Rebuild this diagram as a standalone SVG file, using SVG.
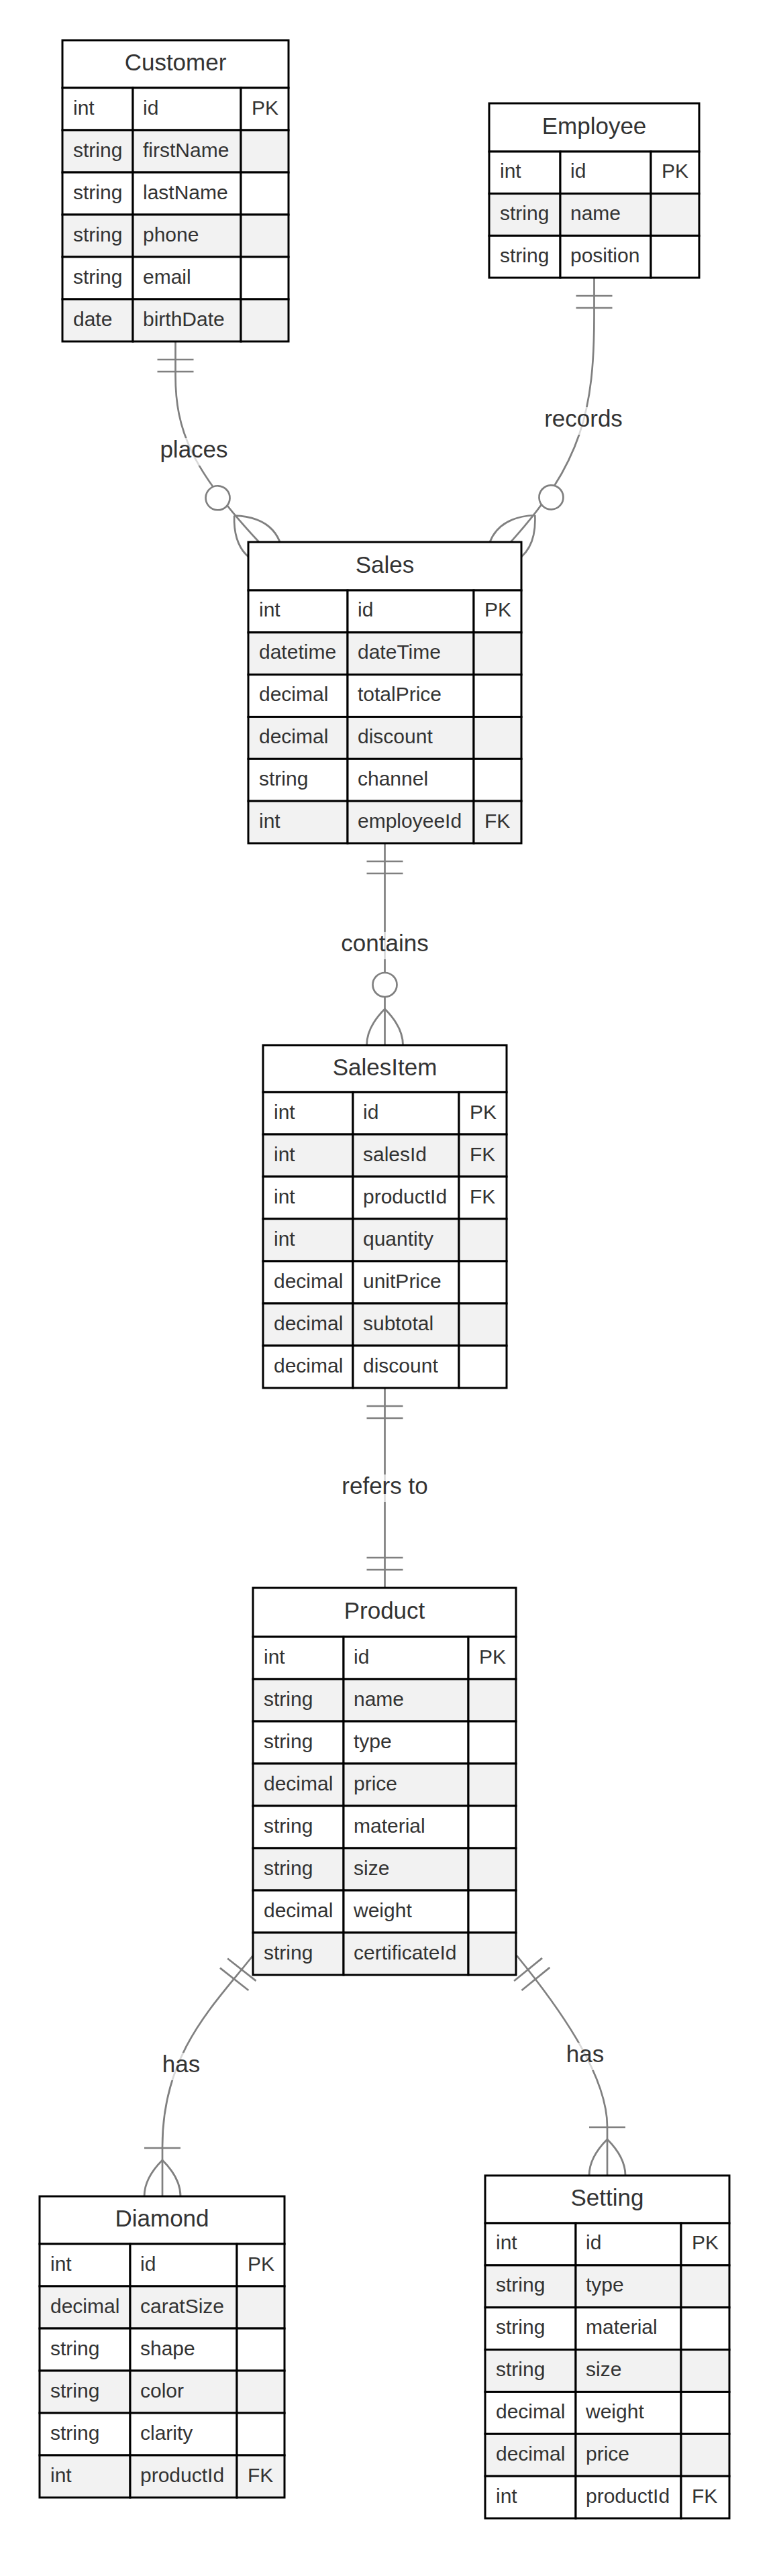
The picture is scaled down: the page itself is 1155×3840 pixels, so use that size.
<svg xmlns="http://www.w3.org/2000/svg" width="1155" height="3840" viewBox="0 0 1155 3840">
<style>
.bg{fill:#ffffff}
.hdr,.odd{fill:#ffffff;stroke:#000;stroke-width:3}
.even{fill:#f2f2f2;stroke:#000;stroke-width:3}
.t{font-family:"Liberation Sans",Arial,sans-serif;font-size:30px;fill:#333}
.title{font-family:"Liberation Sans",Arial,sans-serif;font-size:35px;fill:#333;text-anchor:middle}
.rel{fill:none;stroke:#808080;stroke-width:2.7}
.lblbox{fill:#ffffff;opacity:0.7}
.lbl{font-family:"Liberation Sans",Arial,sans-serif;font-size:35px;fill:#333;text-anchor:middle}
.mk{fill:none;stroke:#808080;stroke-width:0.9}
</style>
<defs>
<marker id="oneStart" markerUnits="userSpaceOnUse" viewBox="0 0 18 18" refX="0" refY="9" markerWidth="54" markerHeight="54" orient="auto" overflow="visible"><path class="mk" d="M9,0 L9,18 M15,0 L15,18"/></marker>
<marker id="oneEnd" markerUnits="userSpaceOnUse" viewBox="0 0 18 18" refX="18" refY="9" markerWidth="54" markerHeight="54" orient="auto" overflow="visible"><path class="mk" d="M3,0 L3,18 M9,0 L9,18"/></marker>
<marker id="zeroManyEnd" markerUnits="userSpaceOnUse" viewBox="0 0 57 36" refX="39" refY="18" markerWidth="171" markerHeight="108" orient="auto" overflow="visible"><circle cx="9" cy="18" r="6" fill="#fff" stroke="#808080" stroke-width="0.9"/><path class="mk" d="M21,18 Q39,0 57,18 Q39,36 21,18"/></marker>
<marker id="oneManyEnd" markerUnits="userSpaceOnUse" viewBox="0 0 45 36" refX="27" refY="18" markerWidth="135" markerHeight="108" orient="auto" overflow="visible"><path class="mk" d="M3,9 L3,27 M9,18 Q27,0 45,18 Q27,36 9,18"/></marker>
</defs>
<rect class="bg" x="0" y="0" width="1155" height="3840"/>
<g id="connectors">
<path class="rel" d="M261.5,509 L261.5,560 C261.5,640 285,700 386,808" marker-start="url(#oneStart)" marker-end="url(#zeroManyEnd)"/>
<path class="rel" d="M885.5,414 L885.5,470 C885.5,610 868,690 761,808" marker-start="url(#oneStart)" marker-end="url(#zeroManyEnd)"/>
<path class="rel" d="M573.5,1257 L573.5,1558" marker-start="url(#oneStart)" marker-end="url(#zeroManyEnd)"/>
<path class="rel" d="M573.5,2069 L573.5,2367" marker-start="url(#oneStart)" marker-end="url(#oneEnd)"/>
<path class="rel" d="M377,2915 C318,2990 242,3060 242,3200 L242,3274" marker-start="url(#oneStart)" marker-end="url(#oneManyEnd)"/>
<path class="rel" d="M770,2915 C826.7,2984.75 905,3090 905,3170 L905,3243" marker-start="url(#oneStart)" marker-end="url(#oneManyEnd)"/>
<rect class="lblbox" x="238.5" y="653" width="101" height="41"/><text class="lbl" x="289" y="682">places</text>
<rect class="lblbox" x="811" y="607" width="117" height="41"/><text class="lbl" x="869.5" y="636">records</text>
<rect class="lblbox" x="508.5" y="1389" width="130" height="41"/><text class="lbl" x="573.5" y="1418">contains</text>
<rect class="lblbox" x="509.3" y="2198" width="128.4" height="41"/><text class="lbl" x="573.5" y="2227">refers to</text>
<rect class="lblbox" x="241.8" y="3060" width="56.4" height="41"/><text class="lbl" x="270" y="3089">has</text>
<rect class="lblbox" x="843.8" y="3045" width="56.4" height="41"/><text class="lbl" x="872" y="3074">has</text>
</g>
<g id="customer">
<rect class="hdr" x="93" y="60" width="337" height="71"/>
<text class="title" x="261.5" y="105">Customer</text>
<rect class="odd" x="93" y="131" width="105" height="63"/><rect class="odd" x="198" y="131" width="161" height="63"/><rect class="odd" x="359" y="131" width="71" height="63"/>
<rect class="even" x="93" y="194" width="105" height="63"/><rect class="even" x="198" y="194" width="161" height="63"/><rect class="even" x="359" y="194" width="71" height="63"/>
<rect class="odd" x="93" y="257" width="105" height="63"/><rect class="odd" x="198" y="257" width="161" height="63"/><rect class="odd" x="359" y="257" width="71" height="63"/>
<rect class="even" x="93" y="320" width="105" height="63"/><rect class="even" x="198" y="320" width="161" height="63"/><rect class="even" x="359" y="320" width="71" height="63"/>
<rect class="odd" x="93" y="383" width="105" height="63"/><rect class="odd" x="198" y="383" width="161" height="63"/><rect class="odd" x="359" y="383" width="71" height="63"/>
<rect class="even" x="93" y="446" width="105" height="63"/><rect class="even" x="198" y="446" width="161" height="63"/><rect class="even" x="359" y="446" width="71" height="63"/>
<text class="t" x="109" y="170.5">int</text><text class="t" x="213" y="170.5">id</text><text class="t" x="375" y="170.5">PK</text>
<text class="t" x="109" y="233.5">string</text><text class="t" x="213" y="233.5">firstName</text>
<text class="t" x="109" y="296.5">string</text><text class="t" x="213" y="296.5">lastName</text>
<text class="t" x="109" y="359.5">string</text><text class="t" x="213" y="359.5">phone</text>
<text class="t" x="109" y="422.5">string</text><text class="t" x="213" y="422.5">email</text>
<text class="t" x="109" y="485.5">date</text><text class="t" x="213" y="485.5">birthDate</text>
</g>
<g id="employee">
<rect class="hdr" x="729" y="154" width="313" height="72"/>
<text class="title" x="885.5" y="199.5">Employee</text>
<rect class="odd" x="729" y="226" width="106" height="62.67"/><rect class="odd" x="835" y="226" width="135" height="62.67"/><rect class="odd" x="970" y="226" width="72" height="62.67"/>
<rect class="even" x="729" y="288.67" width="106" height="62.67"/><rect class="even" x="835" y="288.67" width="135" height="62.67"/><rect class="even" x="970" y="288.67" width="72" height="62.67"/>
<rect class="odd" x="729" y="351.33" width="106" height="62.67"/><rect class="odd" x="835" y="351.33" width="135" height="62.67"/><rect class="odd" x="970" y="351.33" width="72" height="62.67"/>
<text class="t" x="745" y="265.3">int</text><text class="t" x="850" y="265.3">id</text><text class="t" x="986" y="265.3">PK</text>
<text class="t" x="745" y="328">string</text><text class="t" x="850" y="328">name</text>
<text class="t" x="745" y="390.6">string</text><text class="t" x="850" y="390.6">position</text>
</g>
<g id="sales">
<rect class="hdr" x="370" y="808" width="407" height="72"/>
<text class="title" x="573.5" y="853.5">Sales</text>
<rect class="odd" x="370" y="880" width="148" height="62.83"/><rect class="odd" x="518" y="880" width="188" height="62.83"/><rect class="odd" x="706" y="880" width="71" height="62.83"/>
<rect class="even" x="370" y="942.83" width="148" height="62.83"/><rect class="even" x="518" y="942.83" width="188" height="62.83"/><rect class="even" x="706" y="942.83" width="71" height="62.83"/>
<rect class="odd" x="370" y="1005.67" width="148" height="62.83"/><rect class="odd" x="518" y="1005.67" width="188" height="62.83"/><rect class="odd" x="706" y="1005.67" width="71" height="62.83"/>
<rect class="even" x="370" y="1068.5" width="148" height="62.83"/><rect class="even" x="518" y="1068.5" width="188" height="62.83"/><rect class="even" x="706" y="1068.5" width="71" height="62.83"/>
<rect class="odd" x="370" y="1131.33" width="148" height="62.83"/><rect class="odd" x="518" y="1131.33" width="188" height="62.83"/><rect class="odd" x="706" y="1131.33" width="71" height="62.83"/>
<rect class="even" x="370" y="1194.17" width="148" height="62.83"/><rect class="even" x="518" y="1194.17" width="188" height="62.83"/><rect class="even" x="706" y="1194.17" width="71" height="62.83"/>
<text class="t" x="386" y="919.4">int</text><text class="t" x="533" y="919.4">id</text><text class="t" x="722" y="919.4">PK</text>
<text class="t" x="386" y="982.3">datetime</text><text class="t" x="533" y="982.3">dateTime</text>
<text class="t" x="386" y="1045.1">decimal</text><text class="t" x="533" y="1045.1">totalPrice</text>
<text class="t" x="386" y="1107.9">decimal</text><text class="t" x="533" y="1107.9">discount</text>
<text class="t" x="386" y="1170.7">string</text><text class="t" x="533" y="1170.7">channel</text>
<text class="t" x="386" y="1233.6">int</text><text class="t" x="533" y="1233.6">employeeId</text><text class="t" x="722" y="1233.6">FK</text>
</g>
<g id="salesitem">
<rect class="hdr" x="392" y="1558" width="363" height="70"/>
<text class="title" x="573.5" y="1602.5">SalesItem</text>
<rect class="odd" x="392" y="1628" width="134" height="63"/><rect class="odd" x="526" y="1628" width="158" height="63"/><rect class="odd" x="684" y="1628" width="71" height="63"/>
<rect class="even" x="392" y="1691" width="134" height="63"/><rect class="even" x="526" y="1691" width="158" height="63"/><rect class="even" x="684" y="1691" width="71" height="63"/>
<rect class="odd" x="392" y="1754" width="134" height="63"/><rect class="odd" x="526" y="1754" width="158" height="63"/><rect class="odd" x="684" y="1754" width="71" height="63"/>
<rect class="even" x="392" y="1817" width="134" height="63"/><rect class="even" x="526" y="1817" width="158" height="63"/><rect class="even" x="684" y="1817" width="71" height="63"/>
<rect class="odd" x="392" y="1880" width="134" height="63"/><rect class="odd" x="526" y="1880" width="158" height="63"/><rect class="odd" x="684" y="1880" width="71" height="63"/>
<rect class="even" x="392" y="1943" width="134" height="63"/><rect class="even" x="526" y="1943" width="158" height="63"/><rect class="even" x="684" y="1943" width="71" height="63"/>
<rect class="odd" x="392" y="2006" width="134" height="63"/><rect class="odd" x="526" y="2006" width="158" height="63"/><rect class="odd" x="684" y="2006" width="71" height="63"/>
<text class="t" x="408" y="1667.5">int</text><text class="t" x="541" y="1667.5">id</text><text class="t" x="700" y="1667.5">PK</text>
<text class="t" x="408" y="1730.5">int</text><text class="t" x="541" y="1730.5">salesId</text><text class="t" x="700" y="1730.5">FK</text>
<text class="t" x="408" y="1793.5">int</text><text class="t" x="541" y="1793.5">productId</text><text class="t" x="700" y="1793.5">FK</text>
<text class="t" x="408" y="1856.5">int</text><text class="t" x="541" y="1856.5">quantity</text>
<text class="t" x="408" y="1919.5">decimal</text><text class="t" x="541" y="1919.5">unitPrice</text>
<text class="t" x="408" y="1982.5">decimal</text><text class="t" x="541" y="1982.5">subtotal</text>
<text class="t" x="408" y="2045.5">decimal</text><text class="t" x="541" y="2045.5">discount</text>
</g>
<g id="product">
<rect class="hdr" x="377" y="2367" width="392" height="73"/>
<text class="title" x="573" y="2413">Product</text>
<rect class="odd" x="377" y="2440" width="135" height="63"/><rect class="odd" x="512" y="2440" width="186" height="63"/><rect class="odd" x="698" y="2440" width="71" height="63"/>
<rect class="even" x="377" y="2503" width="135" height="63"/><rect class="even" x="512" y="2503" width="186" height="63"/><rect class="even" x="698" y="2503" width="71" height="63"/>
<rect class="odd" x="377" y="2566" width="135" height="63"/><rect class="odd" x="512" y="2566" width="186" height="63"/><rect class="odd" x="698" y="2566" width="71" height="63"/>
<rect class="even" x="377" y="2629" width="135" height="63"/><rect class="even" x="512" y="2629" width="186" height="63"/><rect class="even" x="698" y="2629" width="71" height="63"/>
<rect class="odd" x="377" y="2692" width="135" height="63"/><rect class="odd" x="512" y="2692" width="186" height="63"/><rect class="odd" x="698" y="2692" width="71" height="63"/>
<rect class="even" x="377" y="2755" width="135" height="63"/><rect class="even" x="512" y="2755" width="186" height="63"/><rect class="even" x="698" y="2755" width="71" height="63"/>
<rect class="odd" x="377" y="2818" width="135" height="63"/><rect class="odd" x="512" y="2818" width="186" height="63"/><rect class="odd" x="698" y="2818" width="71" height="63"/>
<rect class="even" x="377" y="2881" width="135" height="63"/><rect class="even" x="512" y="2881" width="186" height="63"/><rect class="even" x="698" y="2881" width="71" height="63"/>
<text class="t" x="393" y="2479.5">int</text><text class="t" x="527" y="2479.5">id</text><text class="t" x="714" y="2479.5">PK</text>
<text class="t" x="393" y="2542.5">string</text><text class="t" x="527" y="2542.5">name</text>
<text class="t" x="393" y="2605.5">string</text><text class="t" x="527" y="2605.5">type</text>
<text class="t" x="393" y="2668.5">decimal</text><text class="t" x="527" y="2668.5">price</text>
<text class="t" x="393" y="2731.5">string</text><text class="t" x="527" y="2731.5">material</text>
<text class="t" x="393" y="2794.5">string</text><text class="t" x="527" y="2794.5">size</text>
<text class="t" x="393" y="2857.5">decimal</text><text class="t" x="527" y="2857.5">weight</text>
<text class="t" x="393" y="2920.5">string</text><text class="t" x="527" y="2920.5">certificateId</text>
</g>
<g id="diamond">
<rect class="hdr" x="59" y="3274" width="365" height="71"/>
<text class="title" x="241.5" y="3319">Diamond</text>
<rect class="odd" x="59" y="3345" width="135" height="63"/><rect class="odd" x="194" y="3345" width="159" height="63"/><rect class="odd" x="353" y="3345" width="71" height="63"/>
<rect class="even" x="59" y="3408" width="135" height="63"/><rect class="even" x="194" y="3408" width="159" height="63"/><rect class="even" x="353" y="3408" width="71" height="63"/>
<rect class="odd" x="59" y="3471" width="135" height="63"/><rect class="odd" x="194" y="3471" width="159" height="63"/><rect class="odd" x="353" y="3471" width="71" height="63"/>
<rect class="even" x="59" y="3534" width="135" height="63"/><rect class="even" x="194" y="3534" width="159" height="63"/><rect class="even" x="353" y="3534" width="71" height="63"/>
<rect class="odd" x="59" y="3597" width="135" height="63"/><rect class="odd" x="194" y="3597" width="159" height="63"/><rect class="odd" x="353" y="3597" width="71" height="63"/>
<rect class="even" x="59" y="3660" width="135" height="63"/><rect class="even" x="194" y="3660" width="159" height="63"/><rect class="even" x="353" y="3660" width="71" height="63"/>
<text class="t" x="75" y="3384.5">int</text><text class="t" x="209" y="3384.5">id</text><text class="t" x="369" y="3384.5">PK</text>
<text class="t" x="75" y="3447.5">decimal</text><text class="t" x="209" y="3447.5">caratSize</text>
<text class="t" x="75" y="3510.5">string</text><text class="t" x="209" y="3510.5">shape</text>
<text class="t" x="75" y="3573.5">string</text><text class="t" x="209" y="3573.5">color</text>
<text class="t" x="75" y="3636.5">string</text><text class="t" x="209" y="3636.5">clarity</text>
<text class="t" x="75" y="3699.5">int</text><text class="t" x="209" y="3699.5">productId</text><text class="t" x="369" y="3699.5">FK</text>
</g>
<g id="setting">
<rect class="hdr" x="723" y="3243" width="364" height="71"/>
<text class="title" x="905" y="3288">Setting</text>
<rect class="odd" x="723" y="3314" width="135" height="62.86"/><rect class="odd" x="858" y="3314" width="157" height="62.86"/><rect class="odd" x="1015" y="3314" width="72" height="62.86"/>
<rect class="even" x="723" y="3376.86" width="135" height="62.86"/><rect class="even" x="858" y="3376.86" width="157" height="62.86"/><rect class="even" x="1015" y="3376.86" width="72" height="62.86"/>
<rect class="odd" x="723" y="3439.71" width="135" height="62.86"/><rect class="odd" x="858" y="3439.71" width="157" height="62.86"/><rect class="odd" x="1015" y="3439.71" width="72" height="62.86"/>
<rect class="even" x="723" y="3502.57" width="135" height="62.86"/><rect class="even" x="858" y="3502.57" width="157" height="62.86"/><rect class="even" x="1015" y="3502.57" width="72" height="62.86"/>
<rect class="odd" x="723" y="3565.43" width="135" height="62.86"/><rect class="odd" x="858" y="3565.43" width="157" height="62.86"/><rect class="odd" x="1015" y="3565.43" width="72" height="62.86"/>
<rect class="even" x="723" y="3628.29" width="135" height="62.86"/><rect class="even" x="858" y="3628.29" width="157" height="62.86"/><rect class="even" x="1015" y="3628.29" width="72" height="62.86"/>
<rect class="odd" x="723" y="3691.14" width="135" height="62.86"/><rect class="odd" x="858" y="3691.14" width="157" height="62.86"/><rect class="odd" x="1015" y="3691.14" width="72" height="62.86"/>
<text class="t" x="739" y="3353.4">int</text><text class="t" x="873" y="3353.4">id</text><text class="t" x="1031" y="3353.4">PK</text>
<text class="t" x="739" y="3416.3">string</text><text class="t" x="873" y="3416.3">type</text>
<text class="t" x="739" y="3479.1">string</text><text class="t" x="873" y="3479.1">material</text>
<text class="t" x="739" y="3542">string</text><text class="t" x="873" y="3542">size</text>
<text class="t" x="739" y="3604.9">decimal</text><text class="t" x="873" y="3604.9">weight</text>
<text class="t" x="739" y="3667.7">decimal</text><text class="t" x="873" y="3667.7">price</text>
<text class="t" x="739" y="3730.6">int</text><text class="t" x="873" y="3730.6">productId</text><text class="t" x="1031" y="3730.6">FK</text>
</g>
</svg>
